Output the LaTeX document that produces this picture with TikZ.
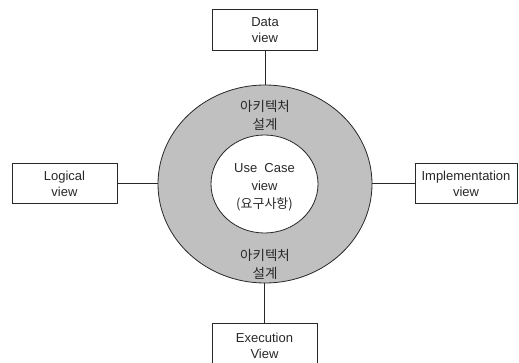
\documentclass[tikz,border=0pt]{standalone}
\usepackage{fontspec}
\setmainfont{Liberation Sans}
\newfontfamily\kr{Noto Sans CJK KR}
\usetikzlibrary{shapes.geometric}
\definecolor{ringgray}{RGB}{192,192,192}
\definecolor{ink}{RGB}{40,40,40}
% two-line box caption, set a little below the geometric centre
\newcommand{\boxcaption}[2]{\raisebox{-2pt}[\height][\depth]{\begin{tabular}{@{}c@{}}#1\\#2\end{tabular}}}
\tikzset{
  viewbox/.style={draw=ink, line width=0.8pt, fill=white, inner sep=0pt,
    align=center, font=\fontsize{13}{16}\selectfont, text=ink},
  link/.style={draw=ink, line width=0.8pt},
  ringlabel/.style={align=center, font=\kr\fontsize{13.5}{18}\selectfont, text=ink},
}
\begin{document}
\begin{tikzpicture}[x=1pt, y=-1pt]
\useasboundingbox (0,0) rectangle (519,363);
% architecture ring and use-case core
\node[ellipse, draw=ink, line width=0.8pt, fill=ringgray, minimum width=214pt,
      minimum height=198pt, inner sep=0pt] (outer) at (265,184) {};
\node[ellipse, draw=ink, line width=0.8pt, fill=white, minimum width=107pt,
      minimum height=98pt, inner sep=0pt] (inner) at (264.5,184) {};
% labels on the ring
\node[ringlabel] (archtop) at (265,115) {아키텍처\\설계};
\node[ringlabel] (archbot) at (265,264) {아키텍처\\설계};
\node[align=center, font=\fontsize{13}{18}\selectfont, text=ink] (usecase) at (264.5,187)
  {Use\ \ Case\\view\\{\kr (요구사항)}};
% surrounding views
\node[viewbox, minimum width=105pt, minimum height=41pt] (data) at (265,29.5) {\boxcaption{Data}{view}};
\node[viewbox, minimum width=105pt, minimum height=40pt] (logical) at (64.5,183) {\boxcaption{Logical}{view}};
\node[viewbox, minimum width=102pt, minimum height=40pt] (impl) at (466,183) {\boxcaption{Implementation}{view}};
\node[viewbox, minimum width=105pt, minimum height=44pt] (exec) at (264.5,345) {\boxcaption{Execution}{View}};
% connectors
\draw[link] (data.south) -- (data.south |- outer.north);
\draw[link] (exec.north) -- (exec.north |- outer.south);
\draw[link] (logical.east) -- (logical.east -| outer.west);
\draw[link] (impl.west) -- (impl.west -| outer.east);
\end{tikzpicture}
\end{document}
